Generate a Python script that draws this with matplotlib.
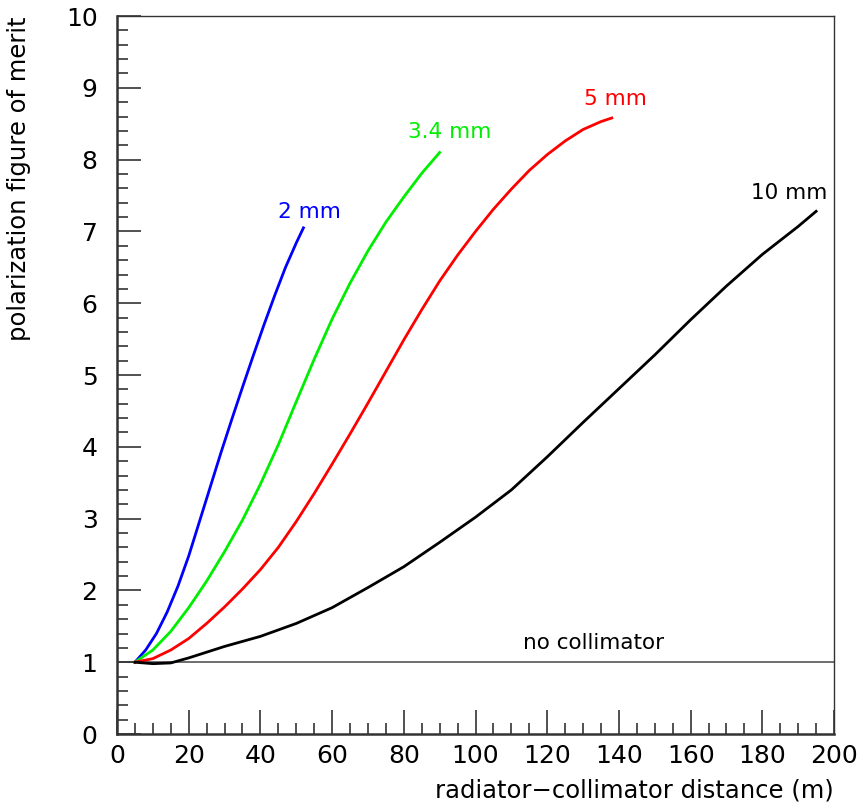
import matplotlib
matplotlib.use("Agg")
import matplotlib.pyplot as plt
from matplotlib.ticker import MultipleLocator

# figure of merit vs radiator-collimator distance, one curve per collimator diameter
x_2mm = [5, 8, 11, 14, 17, 20, 23, 26, 29, 32, 35, 38, 41, 44, 47, 50, 52]
y_2mm = [1.0, 1.17, 1.40, 1.70, 2.06, 2.48, 2.96, 3.44, 3.92, 4.38, 4.83,
         5.27, 5.70, 6.11, 6.50, 6.84, 7.05]

x_34mm = [5, 10, 15, 20, 25, 30, 35, 40, 45, 50, 55, 60, 65, 70, 75, 80, 85, 90]
y_34mm = [1.0, 1.17, 1.43, 1.76, 2.13, 2.54, 2.98, 3.48, 4.03, 4.63, 5.22,
          5.78, 6.28, 6.73, 7.13, 7.48, 7.81, 8.10]

x_5mm = [5, 10, 15, 20, 25, 30, 35, 40, 45, 50, 55, 60, 65, 70, 75, 80, 85,
         90, 95, 100, 105, 110, 115, 120, 125, 130, 135, 138]
y_5mm = [1.0, 1.05, 1.17, 1.33, 1.54, 1.77, 2.02, 2.29, 2.60, 2.96, 3.35,
         3.76, 4.18, 4.61, 5.05, 5.49, 5.91, 6.31, 6.67, 7.00, 7.31, 7.59,
         7.85, 8.07, 8.26, 8.42, 8.53, 8.58]

x_10mm = [5, 10, 15, 20, 30, 40, 50, 60, 70, 80, 90, 100, 110, 120, 130,
          140, 150, 160, 170, 180, 190, 195]
y_10mm = [1.0, 0.98, 0.99, 1.06, 1.22, 1.36, 1.54, 1.76, 2.04, 2.33, 2.67,
          3.02, 3.40, 3.86, 4.34, 4.81, 5.28, 5.77, 6.24, 6.68, 7.07, 7.28]

no_collimator = 1.0

plt.rcParams['font.family'] = ['DejaVu Sans']

fig = plt.figure(figsize=(8.61, 8.10), dpi=100)
ax = fig.add_axes([0.1359, 0.0938, 0.8328, 0.8864])

ax.axhline(no_collimator, color='#555555', lw=1.2, zorder=1)
ax.plot(x_2mm, y_2mm, color='#0000ff', lw=2.0)
ax.plot(x_34mm, y_34mm, color='#00ee00', lw=2.0)
ax.plot(x_5mm, y_5mm, color='#ff0000', lw=2.0)
ax.plot(x_10mm, y_10mm, color='black', lw=2.0)

lbl = 15.5
ax.text(53.8, 7.27, '2 mm', color='#0000ff', fontsize=lbl, ha='center', va='center')
ax.text(92.9, 8.38, '3.4 mm', color='#00ee00', fontsize=lbl, ha='center', va='center')
ax.text(138.9, 8.84, '5 mm', color='#ff0000', fontsize=lbl, ha='center', va='center')
ax.text(187.4, 7.53, '10 mm', color='black', fontsize=lbl, ha='center', va='center')
ax.text(132.8, 1.27, 'no collimator', color='black', fontsize=lbl, ha='center', va='center')

ax.set_xlim(0, 200)
ax.set_ylim(0, 10)
ax.xaxis.set_major_locator(MultipleLocator(20))
ax.xaxis.set_minor_locator(MultipleLocator(5))
ax.yaxis.set_major_locator(MultipleLocator(1))
ax.yaxis.set_minor_locator(MultipleLocator(0.2))
ax.tick_params(which='both', direction='in', top=False, right=False,
               color='#333333', labelsize=18, width=1.2)
ax.tick_params(which='major', length=17)
ax.tick_params(which='minor', length=8)
ax.tick_params(axis='y', which='major', pad=14)
ax.tick_params(axis='x', which='major', pad=7)

for side in ('left', 'bottom'):
    ax.spines[side].set_linewidth(1.8)
    ax.spines[side].set_color('#333333')
for side in ('top', 'right'):
    ax.spines[side].set_linewidth(1.0)
    ax.spines[side].set_color('#333333')

ax.set_xlabel('radiator\u2212collimator distance (m)', fontsize=17.5, loc='right')
ax.set_ylabel('polarization figure of merit', fontsize=17.5, loc='top')
ax.xaxis.set_label_coords(1.0, -0.062)
ax.yaxis.set_label_coords(-0.12, 1.0)

fig.savefig('out.png', dpi=100)
